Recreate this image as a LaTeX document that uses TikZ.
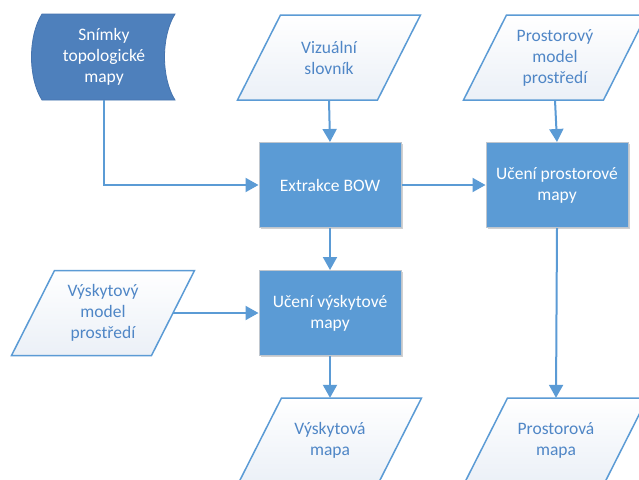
\documentclass[tikz,border=0pt]{standalone}
\usepackage{fontspec}
\setmainfont{Carlito}
\usetikzlibrary{arrows.meta,shadows}

\definecolor{flowblue}{HTML}{5B9BD5}
\definecolor{storeblue}{HTML}{4E80BC}
\definecolor{storeedge}{HTML}{4674AE}
\definecolor{iotext}{HTML}{4F86C6}
\definecolor{iofade}{HTML}{EBF0F7}
\definecolor{boxedge}{HTML}{BFC6CE}

\tikzset{
  x=1pt, y=-1pt,
  labelfont/.style={font=\fontsize{17.5}{21}\selectfont},
  flow/.style={draw=flowblue, line width=2pt, -{Triangle[length=13pt,width=14pt]}},
  procbox/.style={rectangle, fill=flowblue, draw=boxedge, line width=1pt,
    minimum width=142pt, minimum height=85pt, inner sep=2pt, text=white,
    align=center, labelfont,
    drop shadow={shadow xshift=1.5pt, shadow yshift=-1.5pt, opacity=0.18, fill=black}},
  ioface/.style={draw=flowblue, line width=1.5pt, top color=white, bottom color=iofade},
  iolabel/.style={rectangle, minimum width=140pt, minimum height=85pt, inner sep=0pt,
    text=iotext, align=center, labelfont},
  storelabel/.style={rectangle, minimum width=133pt, minimum height=86pt, inner sep=0pt,
    text=white, align=center, labelfont},
}

% data (input/output) parallelogram: name, centre x, centre y, text
\newcommand\dataio[4]{%
  \path[ioface] ({#2-70+21.5},{#3-42.5}) -- ({#2+70+21.5},{#3-42.5})
    -- ({#2+70-21.5},{#3+42.5}) -- ({#2-70-21.5},{#3+42.5}) -- cycle;
  \node[iolabel] (#1) at (#2,#3) {#4};%
}

\begin{document}
\begin{tikzpicture}
  \clip (0,0) rectangle (639,479);
  \fill[white] (0,0) rectangle (639,479);

  % stored data
  \path[fill=storeblue, draw=storeedge, line width=0.8pt]
    (42,14) -- (175,14) .. controls (161,36) and (161,78) .. (175,100)
    -- (42,100) .. controls (28,78) and (28,36) .. (42,14) -- cycle;
  \node[storelabel] (snim) at (104,57) {Snímky\\topologické\\mapy};

  % inputs
  \dataio{viz}{329}{57.5}{Vizuální\\slovník}
  \dataio{prmodel}{555}{57.5}{Prostorový\\model\\prostředí}
  \dataio{vymodel}{103}{313}{Výskytový\\model\\prostředí}

  % processes
  \node[procbox] (bow) at (330,185) {Extrakce BOW};
  \node[procbox] (ucp) at (557,185) {Učení prostorové\\mapy};
  \node[procbox] (ucv) at (330,313) {Učení výskytové\\mapy};

  % outputs
  \dataio{vymapa}{330}{440.5}{Výskytová\\mapa}
  \dataio{prmapa}{556}{440.5}{Prostorová\\mapa}

  % connectors
  \draw[flow] (snim.south) |- (bow.west);
  \draw[flow] (viz.south) -- (bow.north);
  \draw[flow] (prmodel.south) -- (ucp.north);
  \draw[flow] (bow.east) -- (ucp.west);
  \draw[flow] (bow.south) -- (ucv.north);
  \draw[flow] (vymodel.east) -- (ucv.west);
  \draw[flow] (ucv.south) -- (vymapa.north);
  \draw[flow] (ucp.south) -- (prmapa.north);
\end{tikzpicture}
\end{document}
